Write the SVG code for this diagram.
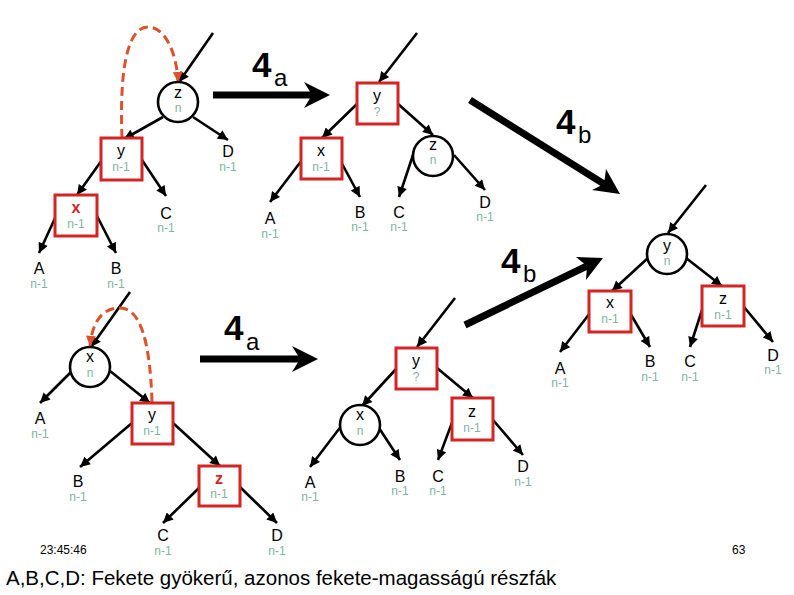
<svg xmlns="http://www.w3.org/2000/svg" width="794" height="595" viewBox="0 0 794 595">
<defs>
<marker id="ah" viewBox="0 0 10 10" refX="10" refY="5" markerWidth="11" markerHeight="10" markerUnits="userSpaceOnUse" orient="auto"><path d="M0,0 L10,5 L0,10 z" fill="#000"/></marker>
<marker id="oh" viewBox="0 0 10 10" refX="10" refY="5" markerWidth="11" markerHeight="10" markerUnits="userSpaceOnUse" orient="auto"><path d="M0,0 L10,5 L0,10 z" fill="#e0502a"/></marker>
<style>
.e{stroke:#000;stroke-width:2.6;fill:none;marker-end:url(#ah)}
.big{stroke:#000;stroke-width:7;fill:none}
.dash{stroke:#e0502a;stroke-width:3;fill:none;stroke-dasharray:9 5;marker-end:url(#oh)}
.rb{fill:#fff;stroke:#d42424;stroke-width:3}
.ci{fill:#fff;stroke:#000;stroke-width:2.6}
text{font-family:"Liberation Sans",Arial,sans-serif;text-anchor:middle}
.l{font-size:16px;fill:#000}
.lr{font-size:16px;fill:#d42424;font-weight:bold}
.h{font-size:12px;fill:#80b3a4}
.n4{font-size:35px;font-weight:bold;fill:#000;text-anchor:start}
.sub{font-size:24px;fill:#000;text-anchor:start}
</style>
</defs>

<g id="connectors">
<!-- tree 1 -->
<line class="e" x1="213" y1="33" x2="179" y2="82"/>
<line class="e" x1="163" y1="117" x2="124" y2="139"/>
<line class="e" x1="193" y1="117" x2="228" y2="140"/>
<line class="e" x1="102" y1="160" x2="77" y2="195"/>
<line class="e" x1="142" y1="160" x2="166" y2="196"/>
<line class="e" x1="56" y1="216" x2="39" y2="253"/>
<line class="e" x1="97" y1="216" x2="116" y2="253"/>
<path class="dash" d="M122,138 C119,60 130,27 148,27 C166,27 177,55 178,82"/>
<!-- tree 2 -->
<line class="e" x1="417" y1="33" x2="379" y2="82"/>
<line class="e" x1="358" y1="103" x2="322" y2="138"/>
<line class="e" x1="397" y1="103" x2="433" y2="135"/>
<line class="e" x1="302" y1="160" x2="270" y2="202"/>
<line class="e" x1="340" y1="160" x2="360" y2="197"/>
<line class="e" x1="414" y1="152" x2="399" y2="197"/>
<line class="e" x1="454" y1="155" x2="485" y2="190"/>
<!-- tree 3 -->
<line class="e" x1="706" y1="185" x2="668" y2="233"/>
<line class="e" x1="648" y1="258" x2="612" y2="291"/>
<line class="e" x1="686" y1="258" x2="722" y2="286"/>
<line class="e" x1="590" y1="313" x2="560" y2="352"/>
<line class="e" x1="630" y1="313" x2="650" y2="347"/>
<line class="e" x1="703" y1="307" x2="690" y2="347"/>
<line class="e" x1="744" y1="307" x2="773" y2="342"/>
<!-- tree 4 -->
<line class="e" x1="130" y1="292" x2="91" y2="347"/>
<line class="e" x1="71" y1="372" x2="40" y2="403"/>
<line class="e" x1="110" y1="371" x2="150" y2="403"/>
<line class="e" x1="132" y1="423" x2="80" y2="467"/>
<line class="e" x1="173" y1="423" x2="220" y2="466"/>
<line class="e" x1="200" y1="487" x2="163" y2="523"/>
<line class="e" x1="240" y1="487" x2="277" y2="523"/>
<path class="dash" d="M152,402 C150,340 140,308 120,308 C100,308 92,325 90,346"/>
<!-- tree 5 -->
<line class="e" x1="455" y1="298" x2="417" y2="347"/>
<line class="e" x1="397" y1="368" x2="362" y2="406"/>
<line class="e" x1="437" y1="368" x2="473" y2="398"/>
<line class="e" x1="342" y1="425" x2="310" y2="467"/>
<line class="e" x1="379" y1="428" x2="400" y2="460"/>
<line class="e" x1="453" y1="420" x2="438" y2="460"/>
<line class="e" x1="493" y1="420" x2="523" y2="455"/>
<!-- transformation arrows -->
<line class="big" x1="213" y1="95" x2="312" y2="95"/>
<polygon points="330,95 304,82 312,95 304,108" fill="#000"/>
<line class="big" x1="200" y1="359" x2="300" y2="359"/>
<polygon points="318,359 292,346 300,359 292,372" fill="#000"/>
<line class="big" x1="470" y1="100" x2="604" y2="184"/>
<polygon points="620,194 592,190 604,184 606,169" fill="#000"/>
<line class="big" x1="465" y1="325" x2="587" y2="266"/>
<polygon points="603,258 576,257 587,266 586,280" fill="#000"/>
</g>

<g id="labels4">
<text class="n4" x="252" y="77">4</text><text class="sub" x="274" y="86">a</text>
<text class="n4" x="556" y="134">4</text><text class="sub" x="578" y="143">b</text>
<text class="n4" x="501" y="273">4</text><text class="sub" x="523" y="282">b</text>
<text class="n4" x="224" y="340">4</text><text class="sub" x="246" y="350">a</text>
</g>

<!-- tree 1 nodes -->
<g id="t1-z"><circle class="ci" cx="178" cy="102" r="20"/><text class="l" x="178" y="98">z</text><text class="h" x="178" y="112">n</text></g>
<g id="t1-y"><rect class="rb" x="101" y="138" width="41" height="42"/><text class="l" x="121" y="156">y</text><text class="h" x="121" y="171">n-1</text></g>
<g id="t1-x"><rect class="rb" x="55" y="195" width="42" height="41"/><text class="lr" x="76" y="213">x</text><text class="h" x="76" y="228">n-1</text></g>
<g id="t1-A"><text class="l" x="39" y="274">A</text><text class="h" x="39" y="288">n-1</text></g>
<g id="t1-B"><text class="l" x="116" y="274">B</text><text class="h" x="116" y="288">n-1</text></g>
<g id="t1-C"><text class="l" x="166" y="219">C</text><text class="h" x="166" y="232">n-1</text></g>
<g id="t1-D"><text class="l" x="228" y="157">D</text><text class="h" x="228" y="171">n-1</text></g>

<!-- tree 2 nodes -->
<g id="t2-y"><rect class="rb" x="357" y="83" width="41" height="41"/><text class="l" x="377" y="101">y</text><text class="h" x="377" y="116">?</text></g>
<g id="t2-x"><rect class="rb" x="301" y="138" width="41" height="41"/><text class="l" x="321" y="156">x</text><text class="h" x="321" y="171">n-1</text></g>
<g id="t2-z"><circle class="ci" cx="433" cy="156" r="20"/><text class="l" x="433" y="150">z</text><text class="h" x="433" y="164">n</text></g>
<g id="t2-A"><text class="l" x="270" y="224">A</text><text class="h" x="270" y="238">n-1</text></g>
<g id="t2-B"><text class="l" x="360" y="218">B</text><text class="h" x="360" y="231">n-1</text></g>
<g id="t2-C"><text class="l" x="399" y="218">C</text><text class="h" x="399" y="231">n-1</text></g>
<g id="t2-D"><text class="l" x="485" y="208">D</text><text class="h" x="485" y="221">n-1</text></g>

<!-- tree 3 nodes -->
<g id="t3-y"><circle class="ci" cx="667" cy="254" r="20"/><text class="l" x="667" y="251">y</text><text class="h" x="667" y="265">n</text></g>
<g id="t3-x"><rect class="rb" x="589" y="291" width="42" height="41"/><text class="l" x="610" y="308">x</text><text class="h" x="610" y="323">n-1</text></g>
<g id="t3-z"><rect class="rb" x="702" y="286" width="42" height="40"/><text class="l" x="723" y="304">z</text><text class="h" x="723" y="319">n-1</text></g>
<g id="t3-A"><text class="l" x="560" y="374">A</text><text class="h" x="560" y="387">n-1</text></g>
<g id="t3-B"><text class="l" x="650" y="367">B</text><text class="h" x="650" y="381">n-1</text></g>
<g id="t3-C"><text class="l" x="690" y="367">C</text><text class="h" x="690" y="381">n-1</text></g>
<g id="t3-D"><text class="l" x="773" y="361">D</text><text class="h" x="773" y="374">n-1</text></g>

<!-- tree 4 nodes -->
<g id="t4-x"><circle class="ci" cx="90" cy="367" r="20"/><text class="l" x="90" y="362">x</text><text class="h" x="90" y="377">n</text></g>
<g id="t4-y"><rect class="rb" x="132" y="403" width="41" height="41"/><text class="l" x="152" y="420">y</text><text class="h" x="152" y="435">n-1</text></g>
<g id="t4-z"><rect class="rb" x="199" y="466" width="41" height="40"/><text class="lr" x="219" y="484">z</text><text class="h" x="219" y="498">n-1</text></g>
<g id="t4-A"><text class="l" x="40" y="424">A</text><text class="h" x="40" y="438">n-1</text></g>
<g id="t4-B"><text class="l" x="78" y="487">B</text><text class="h" x="78" y="501">n-1</text></g>
<g id="t4-C"><text class="l" x="163" y="541">C</text><text class="h" x="163" y="555">n-1</text></g>
<g id="t4-D"><text class="l" x="277" y="541">D</text><text class="h" x="277" y="555">n-1</text></g>

<!-- tree 5 nodes -->
<g id="t5-y"><rect class="rb" x="396" y="348" width="41" height="41"/><text class="l" x="416" y="366">y</text><text class="h" x="416" y="381">?</text></g>
<g id="t5-x"><circle class="ci" cx="360" cy="425" r="20"/><text class="l" x="360" y="420">x</text><text class="h" x="360" y="435">n</text></g>
<g id="t5-z"><rect class="rb" x="452" y="398" width="41" height="42"/><text class="l" x="472" y="417">z</text><text class="h" x="472" y="432">n-1</text></g>
<g id="t5-A"><text class="l" x="310" y="488">A</text><text class="h" x="310" y="501">n-1</text></g>
<g id="t5-B"><text class="l" x="400" y="482">B</text><text class="h" x="400" y="495">n-1</text></g>
<g id="t5-C"><text class="l" x="438" y="482">C</text><text class="h" x="438" y="495">n-1</text></g>
<g id="t5-D"><text class="l" x="523" y="472">D</text><text class="h" x="523" y="486">n-1</text></g>

<g id="footer">
<text x="40" y="554" style="font-size:12px;text-anchor:start">23:45:46</text>
<text x="732" y="554" style="font-size:12px;text-anchor:start">63</text>
<text x="6" y="585" style="font-size:20.5px;text-anchor:start">A,B,C,D: Fekete gyökerű, azonos fekete-magasságú részfák</text>
</g>
</svg>
